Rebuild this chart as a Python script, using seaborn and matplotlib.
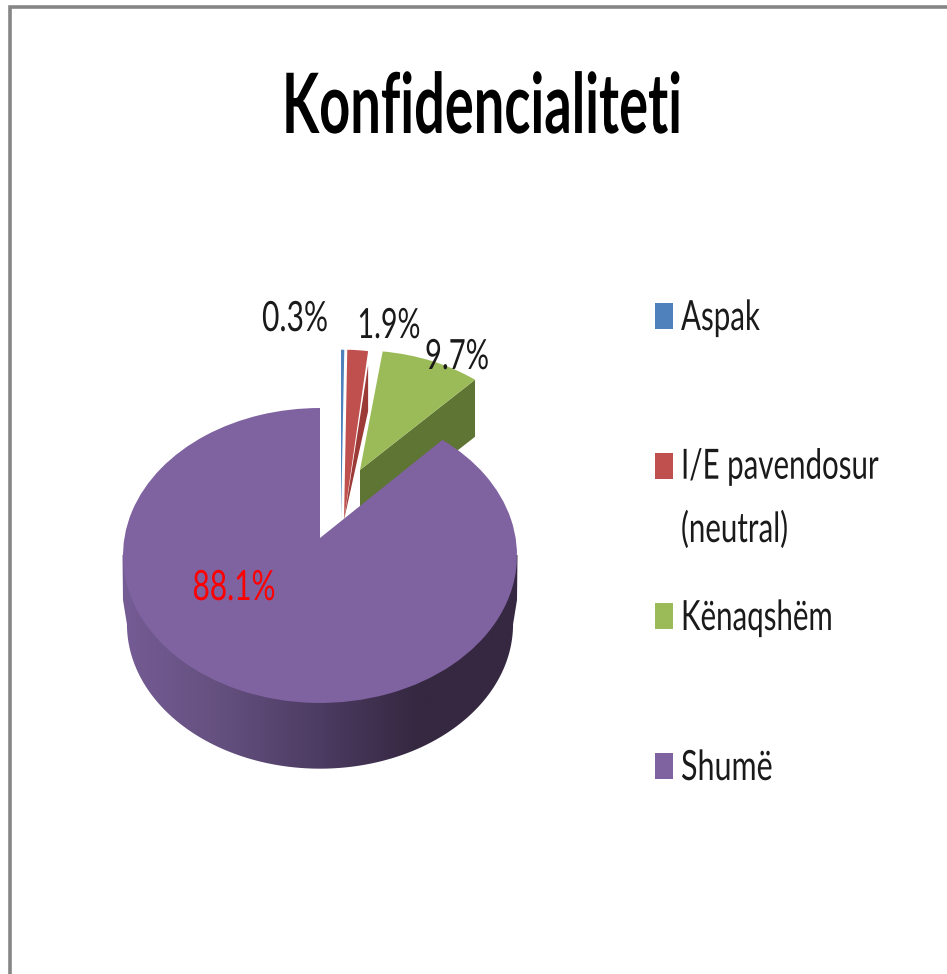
import matplotlib
matplotlib.use("Agg")
import matplotlib.pyplot as plt
import numpy as np
import seaborn as sns
from matplotlib.colors import LinearSegmentedColormap
from matplotlib.patches import Polygon, Rectangle
from matplotlib.patheffects import AbstractPathEffect
from matplotlib.transforms import Affine2D, Transform

categories = ["Aspak", "I/E pavendosur\n(neutral)", "Kënaqshëm", "Shumë"]
values = [0.3, 1.9, 9.7, 88.1]
colors = ["#4f81bd", "#c0504d", "#9bbb59", "#7f62a0"]
title = "Konfidencialiteti"

# slice placement in picture pixels: apex x, apex y, x scale, y scale
placement = [(341, 520, 1.0, 1.31), (344, 520, 1.0, 1.31), (360, 470, 0.94, 0.92), (320, 538, 1.0, 1.0)]
label_pos = [(295, 331), (389, 338), (457, 369), (234, 600)]
label_widths = [66, 63, 64, 83]
label_colors = ["#1a1a1a", "#1a1a1a", "#1a1a1a", "#ff0000"]
legend_baselines = [330, 481, 630, 780]
legend_widths = [79, 198, 152, 92]

RX = 195.6
RY = 145.4
TILT = 0.1186
FONT = ["Lato", "Open Sans", "DejaVu Sans"]


def tilt_xy(u, v, cx, cy, sx, sy):
    w = 1 + TILT * v
    return cx + sx * RX * u / w, cy - sy * RY * v / w


class TiltTransform(Transform):
    # fake perspective: the far side of the disc gets squeezed
    input_dims = 2
    output_dims = 2

    def __init__(self, cx, cy, sx, sy):
        super().__init__()
        self.args = (cx, cy, sx, sy)

    def transform_non_affine(self, values):
        values = np.asarray(values)
        x, y = tilt_xy(values[:, 0], values[:, 1], *self.args)
        return np.column_stack([x, y])


class Squeeze(AbstractPathEffect):
    # the reference text is narrower than any installed face
    def __init__(self, origin, xfactor, yfactor):
        super().__init__()
        self.origin = origin
        self.xfactor = xfactor
        self.yfactor = yfactor

    def draw_path(self, renderer, gc, tpath, affine, rgbFace=None):
        x0, y0 = self.origin
        squeeze = Affine2D().translate(-x0, -y0).scale(self.xfactor, self.yfactor).translate(x0, y0)
        renderer.draw_path(gc, tpath, affine + squeeze, rgbFace)


def fit_text(x, y, s, width, stretch=1.0, **kwargs):
    txt = ax.text(x, y, s, va="baseline", zorder=10, **kwargs)
    measured = txt.get_window_extent(fig.canvas.get_renderer()).width
    origin = ax.transData.transform((x, y))
    txt.set_path_effects([Squeeze(origin, width / measured, stretch)])
    return txt


sns.set_theme(style="white")
plt.rcParams["font.family"] = FONT

fig = plt.figure(figsize=(9.47, 9.74), dpi=100)
ax = fig.add_axes([0, 0, 1, 1])

wedges, _ = ax.pie(values, colors=colors, startangle=90, counterclock=False,
                   wedgeprops={"linewidth": 0})
for wedge, place, z in zip(wedges, placement, [6, 6, 6, 8]):
    wedge.set_transform(TiltTransform(*place) + ax.transData)
    wedge.set_zorder(z)

ax.set_aspect("auto")
ax.axis("off")

# side of the big slice, shaded left to right
t = np.linspace(0.12, np.pi - 0.12, 240)
bot_x, bot_y = tilt_xy(np.cos(t), -np.sin(t), 320, 607, 0.98, 0.98)
side = Polygon(np.column_stack([np.r_[bot_x, 123, 122.5, 517.5, 517], np.r_[bot_y, 600, 555, 555, 600]]),
               facecolor="none", edgecolor="none", transform=ax.transData)
ax.add_patch(side)
shade = LinearSegmentedColormap.from_list(
    "side", ["#755c95", "#64507f", "#4c3b62", "#352840", "#352840"])
im = ax.imshow(np.linspace(0, 1, 256).reshape(1, -1), cmap=shade, aspect="auto",
               extent=(122, 518, 780, 530), zorder=4)
im.set_clip_path(side)
ax.set_xlim(0, 947)
ax.set_ylim(974, 0)

# cut walls of the two pulled out slices
shares = np.cumsum(values) / 100 * 2 * np.pi
gx, gy = tilt_xy(np.sin(shares[2]), np.cos(shares[2]), *placement[2])
ax.add_patch(Polygon([(placement[2][0], placement[2][1]), (gx, gy), (gx, gy + 57),
                      (placement[2][0], placement[2][1] + 57)],
                     facecolor="#5f7533", edgecolor="none", zorder=5))
rx, ry = tilt_xy(np.sin(shares[1]), np.cos(shares[1]), *placement[1])
apex = (placement[1][0], placement[1][1])
ax.add_patch(Polygon([(rx, ry + 14), (rx, ry + 60), apex], facecolor="#9c3a38", edgecolor="none", zorder=7))

# frame only shows on top and left
ax.plot([9.5, 9.5, 947], [974, 7, 7], color="#868686", lw=2.6, solid_joinstyle="miter", zorder=1)

for val, pos, width, col in zip(values, label_pos, label_widths, label_colors):
    fit_text(pos[0], pos[1], f"{val:.1f}%", width, color=col, fontsize=30, ha="center")

fit_text(482, 133, title, 400, fontsize=60, fontweight="bold", color="black", ha="center")

for i, (name, col) in enumerate(zip(categories, colors)):
    ax.add_patch(Rectangle((655, 303 + 150 * i), 18, 26, facecolor=col, edgecolor="none", zorder=10))
    # baseline of a wrapped label sits on its last line
    y = legend_baselines[i] + 61 * name.count("\n")
    fit_text(681, y, name, legend_widths[i], stretch=1.5, fontsize=20, color="#1a1a1a", ha="left", linespacing=1.7)

fig.savefig("out.png", dpi=100)
